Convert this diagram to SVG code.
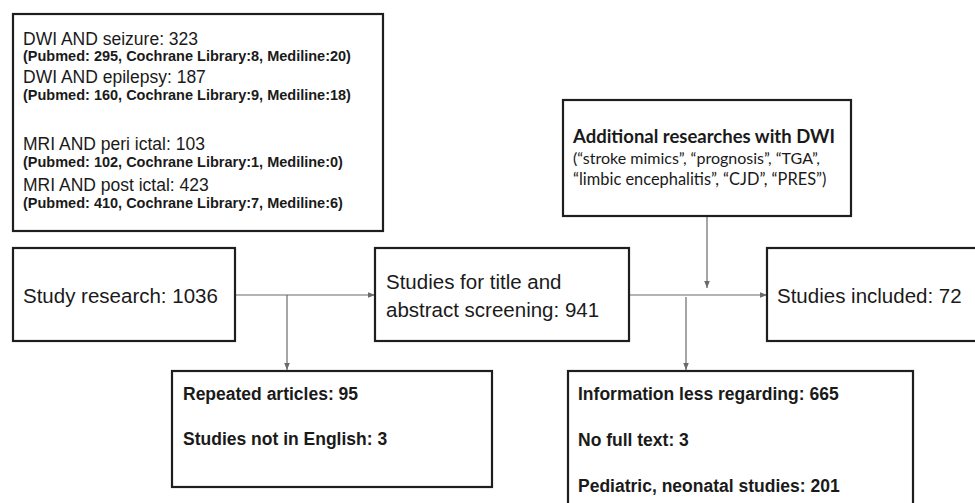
<svg xmlns="http://www.w3.org/2000/svg" width="975" height="503" viewBox="0 0 975 503">
<defs>
<style>
.box{fill:#fff;stroke:#1e1e1e;stroke-width:2.2}
.conn{stroke:#6a6a6a;stroke-width:1.2;fill:none}
.t{font-family:"Liberation Sans",Arial,sans-serif;fill:#1a1a1a}
.big{font-size:20.5px}
.reg{font-size:17.5px}
.bsm{font-size:14.5px;font-weight:bold}
.bmd{font-size:17.5px;font-weight:bold}
.lato{font-family:Lato,"Open Sans",sans-serif;fill:#1a1a1a}
</style>
<marker id="ah" viewBox="0 0 10 10" refX="10" refY="5" markerWidth="7" markerHeight="7" markerUnits="userSpaceOnUse" orient="auto">
<path d="M0,1 L10,5 L0,9 z" fill="#6a6a6a"/>
</marker>
</defs>
<rect width="975" height="503" fill="#fff"/>
<g id="connectors">
<line class="conn" x1="235" y1="295" x2="375" y2="295" marker-end="url(#ah)"/>
<line class="conn" x1="287" y1="295" x2="287" y2="370" marker-end="url(#ah)"/>
<line class="conn" x1="629" y1="295" x2="767" y2="295" marker-end="url(#ah)"/>
<line class="conn" x1="686" y1="297" x2="686" y2="370" marker-end="url(#ah)"/>
<line class="conn" x1="707" y1="216" x2="707" y2="288" marker-end="url(#ah)"/>
</g>
<g id="search-terms">
<rect class="box" x="13" y="14" width="370" height="217"/>
<text class="t reg" x="23" y="45">DWI AND seizure: 323</text>
<text class="t bsm" x="23" y="61">(Pubmed: 295, Cochrane Library:8, Mediline:20)</text>
<text class="t reg" x="23" y="83">DWI AND epilepsy: 187</text>
<text class="t bsm" x="23" y="100">(Pubmed: 160, Cochrane Library:9, Mediline:18)</text>
<text class="t reg" x="23" y="150">MRI AND peri ictal: 103</text>
<text class="t bsm" x="23" y="167">(Pubmed: 102, Cochrane Library:1, Mediline:0)</text>
<text class="t reg" x="23" y="191">MRI AND post ictal: 423</text>
<text class="t bsm" x="23" y="208">(Pubmed: 410, Cochrane Library:7, Mediline:6)</text>
</g>
<g id="additional">
<rect class="box" x="563" y="100" width="288" height="116"/>
<text class="lato" x="573" y="143" font-size="18.5" font-weight="bold">Additional researches with DWI</text>
<text class="lato" x="573" y="164" font-size="16">(“stroke mimics”, “prognosis”, “TGA”,</text>
<text class="lato" x="573" y="185" font-size="16.4">“limbic encephalitis”, “CJD”, “PRES”)</text>
</g>
<g id="study-research">
<rect class="box" x="13" y="248" width="222" height="93"/>
<text class="t big" x="23" y="303">Study research: 1036</text>
</g>
<g id="screening">
<rect class="box" x="375" y="248" width="254" height="93"/>
<text class="t big" x="386" y="289">Studies for title and</text>
<text class="t big" x="386" y="317">abstract screening: 941</text>
</g>
<g id="included">
<rect class="box" x="767" y="248" width="215" height="93"/>
<text class="t big" x="777" y="303">Studies included: 72</text>
</g>
<g id="excluded-1">
<rect class="box" x="172" y="371" width="320" height="116"/>
<text class="t bmd" x="183" y="400">Repeated articles: 95</text>
<text class="t bmd" x="183" y="445">Studies not in English: 3</text>
</g>
<g id="excluded-2">
<rect class="box" x="568" y="371" width="345" height="140"/>
<text class="t bmd" x="578" y="400">Information less regarding: 665</text>
<text class="t bmd" x="578" y="446">No full text: 3</text>
<text class="t bmd" x="578" y="492">Pediatric, neonatal studies: 201</text>
</g>
</svg>
